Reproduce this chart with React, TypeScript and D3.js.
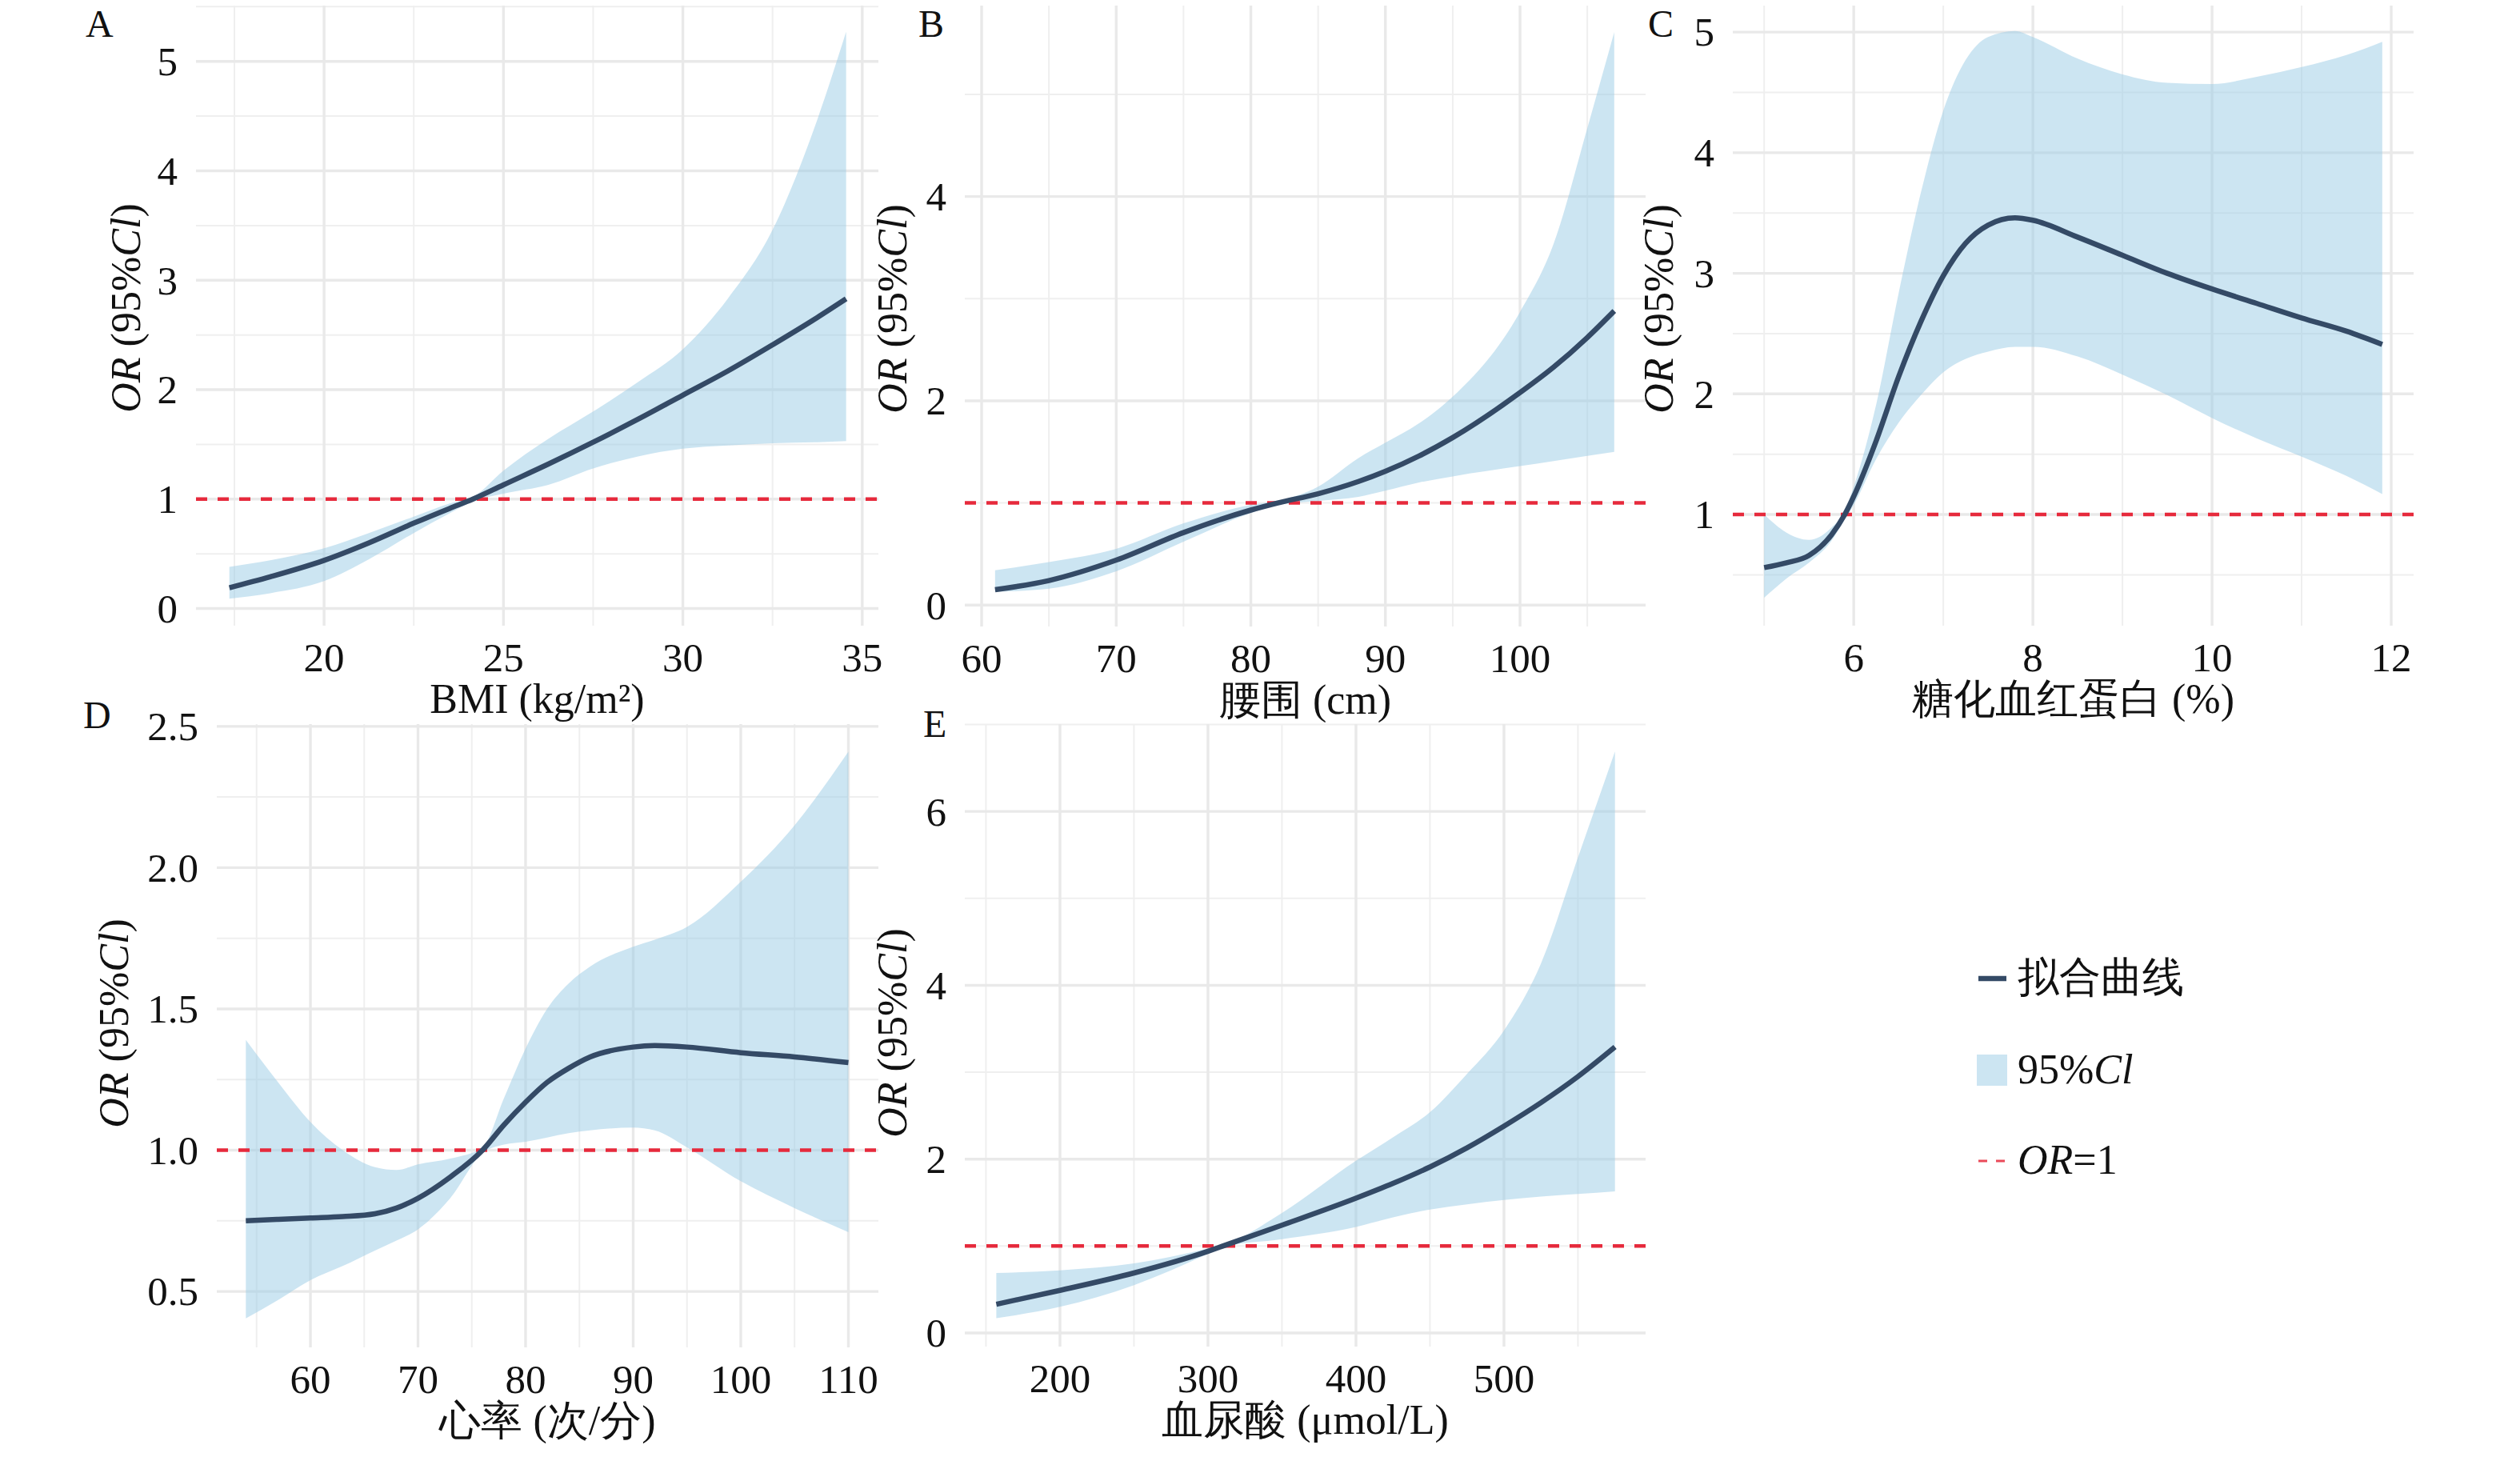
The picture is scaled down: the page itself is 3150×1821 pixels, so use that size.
import React from "react";
import * as d3 from "d3";

// ---------------- DATA ----------------
// Panel A: BMI
const bmiX = [17.36, 18.5, 20, 21.25, 22.5, 23.5, 24.15, 25, 26.25, 27.5, 28.75, 30, 31.25, 32.5, 33.75, 34.55];
const bmiFit = [0.19, 0.29, 0.44, 0.6, 0.78, 0.915, 1.0, 1.13, 1.32, 1.52, 1.73, 1.95, 2.17, 2.41, 2.66, 2.83];
const bmiUpper = [0.38, 0.44, 0.55, 0.69, 0.84, 0.96, 1.02, 1.26, 1.55, 1.8, 2.07, 2.37, 2.83, 3.46, 4.47, 5.27];
const bmiLower = [0.09, 0.14, 0.25, 0.45, 0.69, 0.87, 0.98, 1.05, 1.13, 1.28, 1.39, 1.46, 1.49, 1.51, 1.52, 1.53];

// Panel B: waist circumference
const waistX = [61, 65, 70, 75, 80, 82, 85, 88, 90, 92.5, 95, 100, 102.5, 105, 107];
const waistFit = [0.15, 0.24, 0.44, 0.71, 0.93, 1.0, 1.09, 1.21, 1.31, 1.46, 1.64, 2.08, 2.33, 2.62, 2.88];
const waistUpper = [0.34, 0.42, 0.55, 0.8, 0.98, 1.02, 1.16, 1.44, 1.59, 1.78, 2.04, 2.87, 3.54, 4.67, 5.61];
const waistLower = [0.13, 0.16, 0.33, 0.62, 0.9, 0.98, 1.02, 1.06, 1.12, 1.2, 1.26, 1.36, 1.41, 1.46, 1.5];

// Panel C: HbA1c
const hba1cX = [5.0, 5.25, 5.5, 5.75, 5.9, 6.0, 6.25, 6.5, 6.75, 7.0, 7.25, 7.5, 7.8, 8.0, 8.5, 9, 9.5, 10, 10.5, 11, 11.5, 11.9];
const hba1cFit = [0.56, 0.6, 0.66, 0.83, 1.0, 1.15, 1.61, 2.14, 2.6, 2.98, 3.25, 3.4, 3.46, 3.44, 3.3, 3.15, 3.0, 2.87, 2.75, 2.63, 2.52, 2.41];
const hba1cUpper = [1.0, 0.85, 0.79, 0.89, 1.03, 1.23, 1.91, 2.83, 3.67, 4.35, 4.77, 4.96, 5.01, 4.96, 4.78, 4.65, 4.58, 4.57, 4.63, 4.71, 4.81, 4.92];
const hba1cLower = [0.31, 0.47, 0.6, 0.78, 0.96, 1.08, 1.46, 1.76, 1.99, 2.18, 2.29, 2.35, 2.39, 2.39, 2.31, 2.16, 1.99, 1.8, 1.63, 1.48, 1.32, 1.17];

// Panel D: heart rate
const hrX = [54, 57, 60, 63, 66, 68, 70, 73, 76, 78, 80, 82, 84, 86, 90, 92, 95, 100, 105, 110];
const hrFit = [0.75, 0.755, 0.76, 0.765, 0.775, 0.795, 0.83, 0.905, 1.0, 1.09, 1.17, 1.24, 1.29, 1.33, 1.365, 1.37, 1.365, 1.345, 1.33, 1.31];
const hrUpper = [1.39, 1.24, 1.1, 1.0, 0.94, 0.93, 0.95, 0.97, 1.01, 1.185, 1.36, 1.5, 1.59, 1.65, 1.72, 1.745, 1.79, 1.95, 2.15, 2.41];
const hrLower = [0.405, 0.47, 0.54, 0.59, 0.645, 0.68, 0.72, 0.83, 0.99, 1.02, 1.03, 1.045, 1.06, 1.07, 1.08, 1.07, 1.01, 0.89, 0.795, 0.71];

// Panel E: serum uric acid
const uaX = [157, 200, 250, 300, 310, 350, 400, 425, 450, 475, 500, 525, 550, 575];
const uaFit = [0.33, 0.49, 0.69, 0.94, 1.0, 1.24, 1.55, 1.72, 1.91, 2.13, 2.38, 2.65, 2.95, 3.29];
const uaUpper = [0.69, 0.72, 0.8, 0.97, 1.01, 1.38, 1.98, 2.25, 2.54, 2.98, 3.48, 4.25, 5.47, 6.69];
const uaLower = [0.17, 0.3, 0.55, 0.91, 0.99, 1.08, 1.22, 1.33, 1.42, 1.48, 1.53, 1.57, 1.6, 1.63];

// Tick labels
const ticksAx = [20, 25, 30, 35];
const ticksAy = [0, 1, 2, 3, 4, 5];
const ticksBx = [60, 70, 80, 90, 100];
const ticksBy = [0, 2, 4];
const ticksCx = [6, 8, 10, 12];
const ticksCy = [1, 2, 3, 4, 5];
const ticksDx = [60, 70, 80, 90, 100, 110];
const ticksDy = [0.5, 1.0, 1.5, 2.0, 2.5];
const ticksEx = [200, 300, 400, 500];
const ticksEy = [0, 2, 4, 6];

const panelTags = ["A", "B", "C", "D", "E"];
const xTitles = ["BMI (kg/m²)", "腰围 (cm)", "糖化血红蛋白 (%)", "心率 (次/分)", "血尿酸 (μmol/L)"];
const legendLabels = ["拟合曲线", "95%Cl", "OR=1"];
const referenceOR = 1;

// ---------------- STYLE / LAYOUT ----------------
const FONT = "'Liberation Serif'";
const LINE_COLOR = "#344a66";
const RIBBON_COLOR = "#99cbe6";
const RED = "#e62a3c";
const GRID_MAJOR = "#e9e9e9";
const GRID_MINOR = "#efefef";
const TEXT = "#111111";

type Panel = {
  tag: string;
  xs: number[]; fit: number[]; up: number[]; lo: number[];
  xTicks: number[]; yTicks: number[];
  px: [number, number]; py: [number, number];
  xDom: [number, number]; yDom: [number, number];
  yFmt: (v: number) => string;
  xTitle: string;
  tagPos: [number, number];
  yTitlePos: [number, number];
};

const plain = (v: number) => String(v);

const panels: Panel[] = [
  { tag: panelTags[0], xs: bmiX, fit: bmiFit, up: bmiUpper, lo: bmiLower, xTicks: ticksAx, yTicks: ticksAy,
    px: [245, 1098], py: [7, 782], xDom: [16.43, 35.45], yDom: [-0.157, 5.51], yFmt: plain,
    xTitle: xTitles[0], tagPos: [107, 46], yTitlePos: [175, 385] },
  { tag: panelTags[1], xs: waistX, fit: waistFit, up: waistUpper, lo: waistLower, xTicks: ticksBx, yTicks: ticksBy,
    px: [1206, 2057], py: [7, 783], xDom: [58.75, 109.33], yDom: [-0.21, 5.87], yFmt: plain,
    xTitle: xTitles[1], tagPos: [1148, 46], yTitlePos: [1133, 386] },
  { tag: panelTags[2], xs: hba1cX, fit: hba1cFit, up: hba1cUpper, lo: hba1cLower, xTicks: ticksCx, yTicks: ticksCy,
    px: [2166, 3017], py: [7, 782], xDom: [4.65, 12.25], yDom: [0.078, 5.22], yFmt: plain,
    xTitle: xTitles[2], tagPos: [2060, 46], yTitlePos: [2091, 386] },
  { tag: panelTags[3], xs: hrX, fit: hrFit, up: hrUpper, lo: hrLower, xTicks: ticksDx, yTicks: ticksDy,
    px: [271, 1098], py: [905, 1684], xDom: [51.3, 112.79], yDom: [0.302, 2.508], yFmt: (v) => v.toFixed(1),
    xTitle: xTitles[3], tagPos: [104, 910], yTitlePos: [160, 1279] },
  { tag: panelTags[4], xs: uaX, fit: uaFit, up: uaUpper, lo: uaLower, xTicks: ticksEx, yTicks: ticksEy,
    px: [1206, 2057], py: [905, 1683], xDom: [135.7, 595.7], yDom: [-0.157, 7.005], yFmt: plain,
    xTitle: xTitles[4], tagPos: [1154, 921], yTitlePos: [1133, 1291] },
];

function minorTicks(major: number[], dom: [number, number]): number[] {
  const step = major[1] - major[0];
  const out: number[] = [];
  for (let v = major[0] - step * 2.5; v <= dom[1] + 1e-9; v += step) {
    if (v >= dom[0] && v <= dom[1]) out.push(+v.toFixed(6));
  }
  return out;
}
function inDomain(major: number[], dom: [number, number]): number[] {
  return major.filter((v) => v >= dom[0] && v <= dom[1]);
}

const TICK_FS = 51;
const TITLE_FS = 52;

function PanelView({ p }: { p: Panel }) {
  const x = d3.scaleLinear().domain(p.xDom).range(p.px);
  const y = d3.scaleLinear().domain(p.yDom).range([p.py[1], p.py[0]]);
  const pts = p.xs.map((v, i) => ({ x: v, f: p.fit[i], u: p.up[i], l: p.lo[i] }));
  const curve = d3.curveMonotoneX;
  const area = d3.area<any>().x((d) => x(d.x)).y0((d) => y(d.l)).y1((d) => y(d.u)).curve(curve);
  const line = d3.line<any>().x((d) => x(d.x)).y((d) => y(d.f)).curve(curve);
  const xMin = minorTicks(p.xTicks, p.xDom);
  const yMin = minorTicks(p.yTicks, p.yDom);
  const xMaj = inDomain(p.xTicks, p.xDom);
  const yMaj = inDomain(p.yTicks, p.yDom);
  const cx = (p.px[0] + p.px[1]) / 2;
  const fs = { fontFamily: FONT };
  return (
    <g>
      {yMin.map((v) => (
        <line key={"ym" + v} x1={p.px[0]} x2={p.px[1]} y1={y(v)} y2={y(v)} stroke={GRID_MINOR} strokeWidth={2} />
      ))}
      {xMin.map((v) => (
        <line key={"xm" + v} x1={x(v)} x2={x(v)} y1={p.py[0]} y2={p.py[1]} stroke={GRID_MINOR} strokeWidth={2} />
      ))}
      {yMaj.map((v) => (
        <line key={"yM" + v} x1={p.px[0]} x2={p.px[1]} y1={y(v)} y2={y(v)} stroke={GRID_MAJOR} strokeWidth={3.4} />
      ))}
      {xMaj.map((v) => (
        <line key={"xM" + v} x1={x(v)} x2={x(v)} y1={p.py[0]} y2={p.py[1]} stroke={GRID_MAJOR} strokeWidth={3.4} />
      ))}
      <path d={area(pts) || ""} fill={RIBBON_COLOR} fillOpacity={0.5} />
      <line x1={p.px[0]} x2={p.px[1]} y1={y(referenceOR)} y2={y(referenceOR)} stroke={RED}
        strokeWidth={4.5} strokeDasharray="14 13" />
      <path d={line(pts) || ""} fill="none" stroke={LINE_COLOR} strokeWidth={6.5} strokeLinejoin="round" />
      {yMaj.map((v) => (
        <text key={"yl" + v} x={p.px[0] - 23} y={y(v) + TICK_FS * 0.34} textAnchor="end" fontSize={TICK_FS}
          style={fs} fill={TEXT}>{p.yFmt(v)}</text>
      ))}
      {xMaj.map((v) => (
        <text key={"xl" + v} x={x(v)} y={p.py[1] + 57} textAnchor="middle" fontSize={TICK_FS}
          style={fs} fill={TEXT}>{String(v)}</text>
      ))}
      <text x={cx} y={p.py[1] + 109} textAnchor="middle" fontSize={TITLE_FS} style={fs} fill={TEXT}>
        {p.xTitle}
      </text>
      <text transform={`translate(${p.yTitlePos[0]},${p.yTitlePos[1]}) rotate(-90)`} textAnchor="middle"
        fontSize={TITLE_FS} style={fs} fill={TEXT}>
        <tspan fontStyle="italic">OR</tspan>
        <tspan> (95%</tspan>
        <tspan fontStyle="italic">Cl</tspan>
        <tspan>)</tspan>
      </text>
      <text x={p.tagPos[0]} y={p.tagPos[1]} fontSize={48} style={fs} fill={TEXT}>{p.tag}</text>
    </g>
  );
}

function Legend() {
  const tx = 2522;
  return (
    <g style={{ fontFamily: FONT }} fill={TEXT} fontSize={52}>
      <line x1={2473} x2={2508} y1={1223} y2={1223} stroke={LINE_COLOR} strokeWidth={6.5} />
      <text x={tx} y={1239}>{legendLabels[0]}</text>
      <rect x={2471} y={1318} width={38} height={39} fill={RIBBON_COLOR} fillOpacity={0.5} />
      <text x={tx} y={1354}>
        <tspan>95%</tspan>
        <tspan fontStyle="italic">Cl</tspan>
      </text>
      <line x1={2473} x2={2506} y1={1451} y2={1451} stroke={RED} strokeOpacity={0.85} strokeWidth={3.2} strokeDasharray="11 11" />
      <text x={tx} y={1467}>
        <tspan fontStyle="italic">OR</tspan>
        <tspan>=1</tspan>
      </text>
    </g>
  );
}

export default function App() {
  return (
    <svg width={3150} height={1821} viewBox="0 0 3150 1821"
      style={{ position: "absolute", left: 0, top: 0, background: "#ffffff" }}>
      <rect x={0} y={0} width={3150} height={1821} fill="#ffffff" />
      {panels.map((p) => (
        <PanelView key={p.tag} p={p} />
      ))}
      <Legend />
    </svg>
  );
}
